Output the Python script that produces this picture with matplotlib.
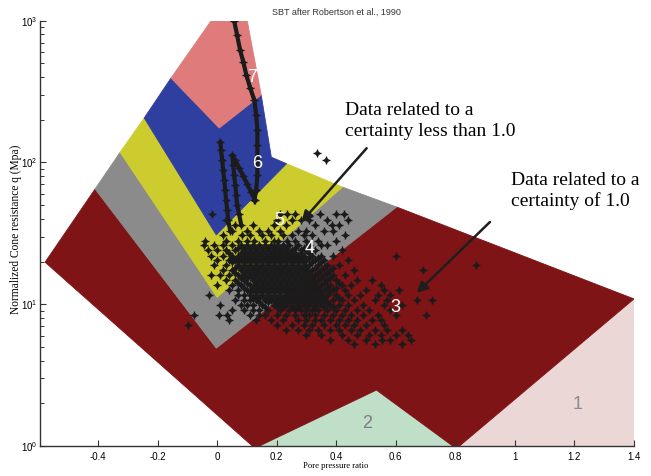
import matplotlib
matplotlib.use('Agg')
import matplotlib.pyplot as plt

plt.rcParams['font.family'] = ['Liberation Sans Narrow', 'Liberation Sans', 'DejaVu Sans']
plt.rcParams['mathtext.fontset'] = 'custom'
plt.rcParams['mathtext.rm'] = 'Liberation Sans'
plt.rcParams['mathtext.it'] = 'Liberation Sans'

# ---------------- zone polygons (pore pressure ratio, normalized q) -------------
zone1_rf = [0.814, 1.40, 1.40]
zone1_q = [1.0, 10.9, 1.0]
zone2_rf = [0.142, 0.535, 0.791]
zone2_q = [1.0, 2.48, 1.0]
zone3_rf = [-0.578, -0.410, -0.003, 0.603, 1.40, 0.814, 0.791, 0.535, 0.142, 0.118]
zone3_q = [19.8, 65, 4.9, 48.5, 10.9, 1.0, 1.0, 2.48, 1.0, 1.0]
zone4_rf = [-0.410, -0.326, 0.000, 0.421, 0.603, -0.003]
zone4_q = [65, 118, 11.2, 67, 48.5, 4.9]
zone5_rf = [-0.326, -0.245, -0.003, 0.233, 0.421, 0.000]
zone5_q = [118, 206, 30.8, 98, 67, 11.2]
zone6_rf = [-0.245, -0.155, 0.007, 0.148, 0.182, 0.233, -0.003]
zone6_q = [206, 394, 175, 299, 109, 98, 30.8]
zone7_rf = [-0.155, -0.020, 0.101, 0.148, 0.007]
zone7_q = [394, 1000, 1000, 299, 175]
zone_colors = ['#ecd7d7', '#c0dfc9', '#7f1416', '#8b8b8b', '#cdcc2f', '#2f3f9f', '#e07b7b']

# ---------------- zone labels ----------------
zone_labels = ['1', '2', '3', '4', '5', '6', '7']
label_rf = [1.21, 0.505, 0.60, 0.31, 0.209, 0.135, 0.118]
label_q = [1.95, 1.45, 9.5, 24.9, 39, 99, 400]
label_colors = ['#8a8a90', '#7c7c84', 'white', 'white', 'white', 'white', 'white']

# ---------------- data trails (dense strings of points) ----------------
trail_rf = [0.057, 0.067, 0.077, 0.088, 0.098, 0.111, 0.125, 0.131, 0.135, 0.135, 0.135, 0.135, 0.131, 0.125]
trail_q = [1000, 791, 621, 511, 413, 335, 275, 216, 169, 133, 104, 81, 64, 54]
streak1_rf = [0.011, 0.013, 0.017, 0.020, 0.024, 0.027, 0.030, 0.034, 0.037, 0.044]
streak1_q = [140, 122, 104, 88, 75, 64, 54, 46, 39, 33]
streak2_rf = [0.051, 0.054, 0.057, 0.061, 0.064, 0.067, 0.074, 0.081]
streak2_q = [113, 96, 81, 69, 59, 50, 43, 36]
streak3_rf = [0.061, 0.074, 0.088, 0.101, 0.114, 0.128]
streak3_q = [104, 91, 80, 70, 62, 54]

# ---------------- main point cloud, row by row ----------------
cloud_q = [43, 39, 36, 33, 31, 28, 26, 24, 22, 20.5, 18.9, 17.4, 16.1, 14.8, 13.7,
           12.6, 11.6, 10.7, 9.9, 9.1, 8.4, 7.7, 7.1, 6.6, 6.1, 5.6, 5.2]
cloud_rf = [
    [-0.017, 0.21, 0.235, 0.26, 0.345, 0.40, 0.425],
    [0.03, 0.20, 0.25, 0.28, 0.31, 0.37, 0.44],
    [0.06, 0.12, 0.19, 0.23, 0.33, 0.385, 0.41],
    [0.05, 0.10, 0.14, 0.17, 0.21, 0.27, 0.30, 0.36, 0.39],
    [0.02, 0.085, 0.11, 0.15, 0.18, 0.22, 0.25, 0.29, 0.32, 0.43],
    [-0.04, 0.03, 0.07, 0.10, 0.125, 0.16, 0.19, 0.205, 0.235, 0.26, 0.30, 0.34, 0.40],
    [-0.045, -0.01, 0.02, 0.05, 0.08, 0.10, 0.12, 0.14, 0.16, 0.18, 0.20, 0.22, 0.24, 0.27, 0.31, 0.35, 0.37],
    [-0.03, 0.00, 0.03, 0.06, 0.09, 0.11, 0.13, 0.15, 0.17, 0.19, 0.21, 0.23, 0.25, 0.28, 0.30, 0.33, 0.42],
    [-0.02, 0.02, 0.05, 0.07, 0.09, 0.11, 0.13, 0.15, 0.17, 0.19, 0.21, 0.23, 0.25, 0.27, 0.29, 0.32, 0.35, 0.39, 0.60],
    [0.00, 0.04, 0.06, 0.08, 0.10, 0.12, 0.14, 0.16, 0.18, 0.20, 0.22, 0.24, 0.26, 0.28, 0.30, 0.33, 0.36, 0.44],
    [-0.01, 0.03, 0.07, 0.09, 0.11, 0.13, 0.15, 0.17, 0.19, 0.21, 0.23, 0.25, 0.27, 0.29, 0.31, 0.34, 0.37, 0.41, 0.87],
    [0.02, 0.05, 0.08, 0.10, 0.12, 0.14, 0.16, 0.18, 0.20, 0.22, 0.24, 0.26, 0.28, 0.30, 0.32, 0.35, 0.38, 0.46, 0.69],
    [-0.02, 0.01, 0.04, 0.07, 0.09, 0.11, 0.13, 0.15, 0.17, 0.19, 0.21, 0.23, 0.25, 0.27, 0.29, 0.31, 0.33, 0.36, 0.39, 0.43],
    [0.03, 0.06, 0.09, 0.12, 0.14, 0.16, 0.18, 0.20, 0.22, 0.24, 0.26, 0.28, 0.30, 0.32, 0.34, 0.37, 0.40, 0.47, 0.52],
    [0.00, 0.05, 0.08, 0.11, 0.13, 0.15, 0.17, 0.19, 0.21, 0.23, 0.25, 0.27, 0.29, 0.31, 0.33, 0.35, 0.38, 0.42, 0.45, 0.55],
    [0.04, 0.07, 0.10, 0.12, 0.14, 0.16, 0.18, 0.20, 0.22, 0.24, 0.26, 0.28, 0.30, 0.32, 0.34, 0.36, 0.39, 0.43, 0.50, 0.56, 0.61],
    [-0.027, 0.07, 0.09, 0.11, 0.13, 0.15, 0.17, 0.19, 0.21, 0.23, 0.25, 0.27, 0.29, 0.31, 0.33, 0.35, 0.37, 0.40, 0.44, 0.48, 0.54, 0.58],
    [0.06, 0.09, 0.11, 0.13, 0.16, 0.18, 0.20, 0.22, 0.24, 0.26, 0.28, 0.30, 0.32, 0.34, 0.36, 0.39, 0.42, 0.46, 0.53, 0.57, 0.67, 0.72],
    [0.01, 0.08, 0.10, 0.12, 0.15, 0.19, 0.21, 0.23, 0.25, 0.27, 0.29, 0.31, 0.33, 0.35, 0.38, 0.41, 0.44, 0.49, 0.56, 0.62],
    [0.05, 0.09, 0.12, 0.14, 0.17, 0.21, 0.24, 0.26, 0.28, 0.30, 0.32, 0.34, 0.37, 0.40, 0.43, 0.47, 0.51, 0.58],
    [-0.077, 0.007, 0.034, 0.11, 0.14, 0.16, 0.20, 0.23, 0.26, 0.29, 0.31, 0.33, 0.36, 0.39, 0.42, 0.45, 0.49, 0.54, 0.60, 0.70],
    [0.04, 0.13, 0.18, 0.22, 0.27, 0.30, 0.33, 0.35, 0.38, 0.41, 0.44, 0.47, 0.52, 0.55],
    [-0.098, 0.20, 0.25, 0.29, 0.32, 0.36, 0.40, 0.43, 0.46, 0.50, 0.56],
    [0.23, 0.27, 0.31, 0.34, 0.38, 0.41, 0.45, 0.48, 0.53, 0.57, 0.62],
    [0.30, 0.35, 0.42, 0.47, 0.51, 0.55, 0.60, 0.64],
    [0.38, 0.44, 0.50, 0.555, 0.58, 0.65],
    [0.46, 0.53, 0.62],
]
# denser core between the rows above
core_q = [25, 23, 21.2, 19.7, 18.1, 16.7, 15.4, 14.2, 13.1, 12.1, 11.1, 10.3, 9.5]
core_rf = [
    [0.07, 0.09, 0.11, 0.13, 0.15, 0.17, 0.19, 0.21, 0.23, 0.26, 0.29],
    [0.04, 0.08, 0.10, 0.12, 0.14, 0.16, 0.18, 0.20, 0.22, 0.24, 0.26, 0.28, 0.31],
    [0.05, 0.07, 0.09, 0.11, 0.13, 0.15, 0.17, 0.19, 0.21, 0.23, 0.25, 0.27, 0.29, 0.31, 0.34],
    [0.05, 0.07, 0.09, 0.11, 0.13, 0.15, 0.17, 0.19, 0.21, 0.23, 0.25, 0.27, 0.29, 0.32, 0.35],
    [0.06, 0.08, 0.10, 0.12, 0.14, 0.16, 0.18, 0.20, 0.22, 0.24, 0.26, 0.28, 0.30, 0.33, 0.36, 0.39],
    [0.06, 0.09, 0.11, 0.13, 0.15, 0.17, 0.19, 0.21, 0.23, 0.25, 0.27, 0.29, 0.31, 0.34, 0.37],
    [0.08, 0.10, 0.12, 0.14, 0.16, 0.18, 0.20, 0.22, 0.24, 0.26, 0.28, 0.30, 0.32, 0.35, 0.38],
    [0.07, 0.10, 0.13, 0.15, 0.17, 0.19, 0.21, 0.23, 0.25, 0.27, 0.29, 0.31, 0.33, 0.36, 0.41],
    [0.09, 0.12, 0.14, 0.16, 0.18, 0.20, 0.22, 0.24, 0.26, 0.28, 0.30, 0.32, 0.34, 0.37, 0.40],
    [0.11, 0.13, 0.15, 0.17, 0.19, 0.21, 0.23, 0.25, 0.27, 0.29, 0.31, 0.33, 0.35, 0.38],
    [0.12, 0.14, 0.16, 0.18, 0.20, 0.22, 0.24, 0.26, 0.28, 0.30, 0.32, 0.34, 0.36, 0.41],
    [0.14, 0.17, 0.19, 0.21, 0.23, 0.25, 0.27, 0.29, 0.31, 0.33, 0.35, 0.37],
    [0.16, 0.20, 0.22, 0.25, 0.27, 0.30, 0.33, 0.36, 0.39],
]
outlier_rf = [0.337, 0.367]
outlier_q = [116, 104]

# ---------------- annotations ----------------
note1_lines = ['Data related to a', 'certainty less than 1.0']
note1_rf = 0.428
note1_q = [216, 153]
note1_arrow = [(0.502, 126), (0.283, 38)]
note2_lines = ['Data related to a', 'certainty of 1.0']
note2_rf = 0.986
note2_q = [69, 49.3]
note2_arrow = [(0.916, 38), (0.670, 12.0)]

xtick_vals = [-0.4, -0.2, 0, 0.2, 0.4, 0.6, 0.8, 1.0, 1.2, 1.4]
xtick_text = ['-0.4', '-0.2', '0', '0.2', '0.4', '0.6', '0.8', '1', '1.2', '1.4']
ytick_vals = [1, 10, 100, 1000]
ytick_text = ['$10^0$', '$10^1$', '$10^2$', '$10^3$']

# ================= drawing =================
W, H = 651, 476
fig = plt.figure(figsize=(W / 100, H / 100), dpi=100)
ax = fig.add_axes([40 / W, 30 / H, 594 / W, 425.3 / H])
ax.set_yscale('log')
ax.set_xlim(-0.595, 1.4)
ax.set_ylim(1, 1000)

zones = [(zone1_rf, zone1_q), (zone2_rf, zone2_q), (zone3_rf, zone3_q), (zone4_rf, zone4_q),
         (zone5_rf, zone5_q), (zone6_rf, zone6_q), (zone7_rf, zone7_q)]
for (zr, zq), c in zip(zones, zone_colors):
    ax.fill(zr, zq, color=c, lw=0.6, ec=c, zorder=1)

ink = '#1b1b1b'
mk_d = dict(ls='none', marker='D', ms=3.3, color=ink, mew=0, zorder=3)
mk_p = dict(ls='none', marker='+', ms=5.4, color=ink, mew=1.0, zorder=3)


def dots(xs, ys):
    ax.plot(xs, ys, **mk_d)
    ax.plot(xs, ys, **mk_p)


for q, row in zip(cloud_q, cloud_rf):
    dots(row, [q] * len(row))
for q, row in zip(core_q, core_rf):
    dots(row, [q] * len(row))
dots(outlier_rf, outlier_q)
for sr, sq in [(trail_rf, trail_q), (streak1_rf, streak1_q), (streak2_rf, streak2_q), (streak3_rf, streak3_q)]:
    ax.plot(sr, sq, '-', color=ink, lw=3.0, zorder=3, solid_capstyle='round')
    dots(sr, sq)

for t, x, y, c in zip(zone_labels, label_rf, label_q, label_colors):
    ax.text(x, y, t, color=c, fontsize=13, ha='center', va='center', zorder=6)

serif = ['Liberation Serif', 'DejaVu Serif']
for line, q in zip(note1_lines, note1_q):
    ax.text(note1_rf, q, line, family=serif, fontsize=14, ha='left', va='baseline', zorder=7)
for line, q in zip(note2_lines, note2_q):
    ax.text(note2_rf, q, line, family=serif, fontsize=14, ha='left', va='baseline', zorder=7)
for tail, tip in [note1_arrow, note2_arrow]:
    ax.annotate('', xy=tip, xytext=tail, zorder=7,
                arrowprops=dict(arrowstyle='-|>', color='#1e1e1e', lw=1.8,
                                mutation_scale=16, shrinkA=0, shrinkB=0))

ax.set_xticks(xtick_vals)
ax.set_xticklabels(xtick_text)
ax.set_yticks(ytick_vals)
ax.set_yticklabels(ytick_text)
ax.tick_params(which='major', direction='in', length=4.5, width=0.8, labelsize=7, color='#333333')
ax.tick_params(which='minor', direction='in', length=3, width=0.7, color='#333333')
ax.tick_params(axis='x', pad=4)
ax.tick_params(axis='y', pad=2)
for s in ['top', 'right']:
    ax.spines[s].set_visible(False)
for s in ['left', 'bottom']:
    ax.spines[s].set_color('#333333')
    ax.spines[s].set_linewidth(1.0)

fig.text(336 / W, 1 - 12 / H, 'SBT after Robertson et al., 1990', fontsize=6.5,
         ha='center', va='center', color='#333333')
fig.text(336 / W, 1 - 466 / H, 'Pore pressure ratio', family=serif, fontsize=6.2,
         ha='center', va='center')
fig.text(16 / W, 1 - 229 / H, 'Normalized Cone resistance q (Mpa)', family=serif, fontsize=8.3,
         ha='center', va='center', rotation=90)

fig.savefig('out.png', dpi=100)
